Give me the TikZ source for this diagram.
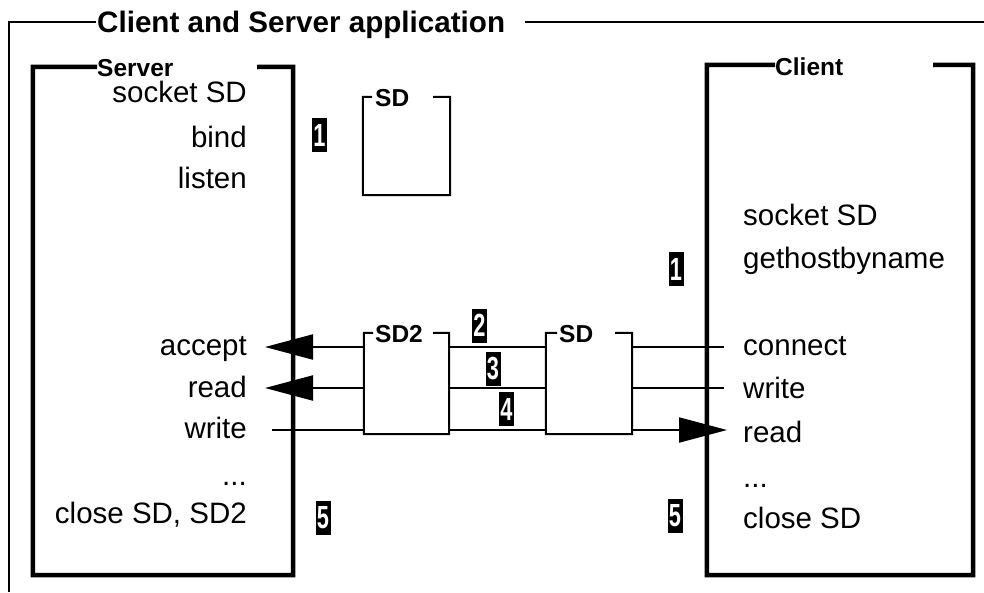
\documentclass[tikz,border=0pt]{standalone}
\usepackage{fontspec}
\usepackage{graphicx}
\setmainfont{Liberation Sans}
\usetikzlibrary{arrows.meta}
\begin{document}
\begin{tikzpicture}[x=1pt,y=-1pt,
  frame/.style={line width=1.5pt},
  thick box/.style={line width=4.5pt},
  thin box/.style={line width=2pt},
  conn/.style={line width=2pt},
  arr/.style={conn,-{Triangle[length=48pt,width=25pt]}},
  body/.style={inner sep=0pt,font=\fontsize{29.5}{32}\selectfont},
  blabel/.style={inner sep=0pt,anchor=base west,font=\fontsize{24.5}{26}\selectfont\bfseries},
  badge/.style={fill=black,text=white,inner sep=0pt,minimum width=15pt,minimum height=34pt,font=\fontsize{32}{32}\selectfont\bfseries}
]
\useasboundingbox (0,0) rectangle (984,592);
% outer frame
\node[inner sep=0pt,anchor=base west,font=\fontsize{29.6}{32}\selectfont\bfseries] (title) at (97,32) {Client and Server application};
\draw[frame] (title.west |- 0,22) ++(-1,0) -- (9,22) -- (9,592);
\draw[frame] (525,22) -- (984,22);

% server box
\node[blabel] (srvlbl) at (97,76) {Server};
\node[inner sep=0pt,minimum width=260pt,minimum height=508pt] (srv) at (163,321) {};
\draw[thick box] (srvlbl.west |- srv.north) -- (srv.north west) -- (srv.south west) -- (srv.south east) -- (srv.north east) -- (257,67);

% client box
\node[blabel] (clilbl) at (775,75) {Client};
\node[inner sep=0pt,minimum width=266pt,minimum height=510pt] (cli) at (840,320) {};
\draw[thick box] (clilbl.west |- cli.north) -- (cli.north west) -- (cli.south west) -- (cli.south east) -- (cli.north east) -- (933,65);

% small SD box (top)
\node[inner sep=0pt,minimum width=87pt,minimum height=98pt] (sdtop) at (406.5,146) {};
\node[blabel] (sdtoplbl) at (375,106) {SD};
\draw[thin box] (372,97) -- (sdtop.north west) -- (sdtop.south west) -- (sdtop.south east) -- (sdtop.north east) -- (433,97);

% SD2 box
\node[inner sep=0pt,minimum width=85pt,minimum height=101pt] (sdtwo) at (406.5,383.5) {};
\node[blabel] (sdtwolbl) at (375,342) {SD2};
\draw[thin box] (373,333) -- (sdtwo.north west) -- (sdtwo.south west) -- (sdtwo.south east) -- (sdtwo.north east) -- (433,333);

% SD box (middle)
\node[inner sep=0pt,minimum width=86pt,minimum height=101pt] (sdmid) at (589,383.5) {};
\node[blabel] (sdmidlbl) at (559,342) {SD};
\draw[thin box] (557,333) -- (sdmid.north west) -- (sdmid.south west) -- (sdmid.south east) -- (sdmid.north east) -- (615,333);

% server texts
\node[body,anchor=base east] (s1) at (247,102) {socket SD};
\node[body,anchor=base east] (s2) at (247,147) {bind};
\node[body,anchor=base east] (s3) at (247,188) {listen};
\node[body,anchor=base east] (s4) at (247,355) {accept};
\node[body,anchor=base east] (s5) at (247,397) {read};
\node[body,anchor=base east] (s6) at (247,438) {write};
\node[body,anchor=base east] (s7) at (247,485) {...};
\node[body,anchor=base east] (s8) at (247,523) {close SD, SD2};

% client texts
\node[body,anchor=base west] (c1) at (743,225) {socket SD};
\node[body,anchor=base west] (c2) at (743,268) {gethostbyname};
\node[body,anchor=base west] (c3) at (743,355) {connect};
\node[body,anchor=base west] (c4) at (743,398) {write};
\node[body,anchor=base west] (c5) at (743,442) {read};
\node[body,anchor=base west] (c6) at (743,487) {...};
\node[body,anchor=base west] (c7) at (743,528) {close SD};

% badges
\node[badge] (b1a) at (319.5,135) {\scalebox{.68}[1]{1}};
\node[badge] (b1b) at (676,269) {\scalebox{.68}[1]{1}};
\node[badge] (b2) at (479.5,325.5) {\scalebox{.68}[1]{2}};
\node[badge] (b3) at (493,368.5) {\scalebox{.68}[1]{3}};
\node[badge] (b4) at (506.5,409) {\scalebox{.68}[1]{4}};
\node[badge] (b5a) at (323,518) {\scalebox{.68}[1]{5}};
\node[badge] (b5b) at (675,516) {\scalebox{.68}[1]{5}};

% connector end points
\coordinate (acceptTip) at (265,347);
\coordinate (readTip) at (265,388);
\coordinate (writeStart) at (272,430);
\coordinate (connectEnd) at (724,347);
\coordinate (cwriteEnd) at (724,388);
\coordinate (creadTip) at (727,430);

% connectors
\draw[arr] (sdtwo.west |- acceptTip) -- (acceptTip);
\draw[arr] (sdtwo.west |- readTip) -- (readTip);
\draw[conn] (writeStart) -- (sdtwo.west |- writeStart);
\draw[conn] (sdtwo.east |- acceptTip) -- (sdmid.west |- acceptTip);
\draw[conn] (sdtwo.east |- readTip) -- (sdmid.west |- readTip);
\draw[conn] (sdtwo.east |- writeStart) -- (sdmid.west |- writeStart);
\draw[conn] (sdmid.east |- connectEnd) -- (connectEnd);
\draw[conn] (sdmid.east |- cwriteEnd) -- (cwriteEnd);
\draw[arr] (sdmid.east |- creadTip) -- (creadTip);
\end{tikzpicture}
\end{document}
